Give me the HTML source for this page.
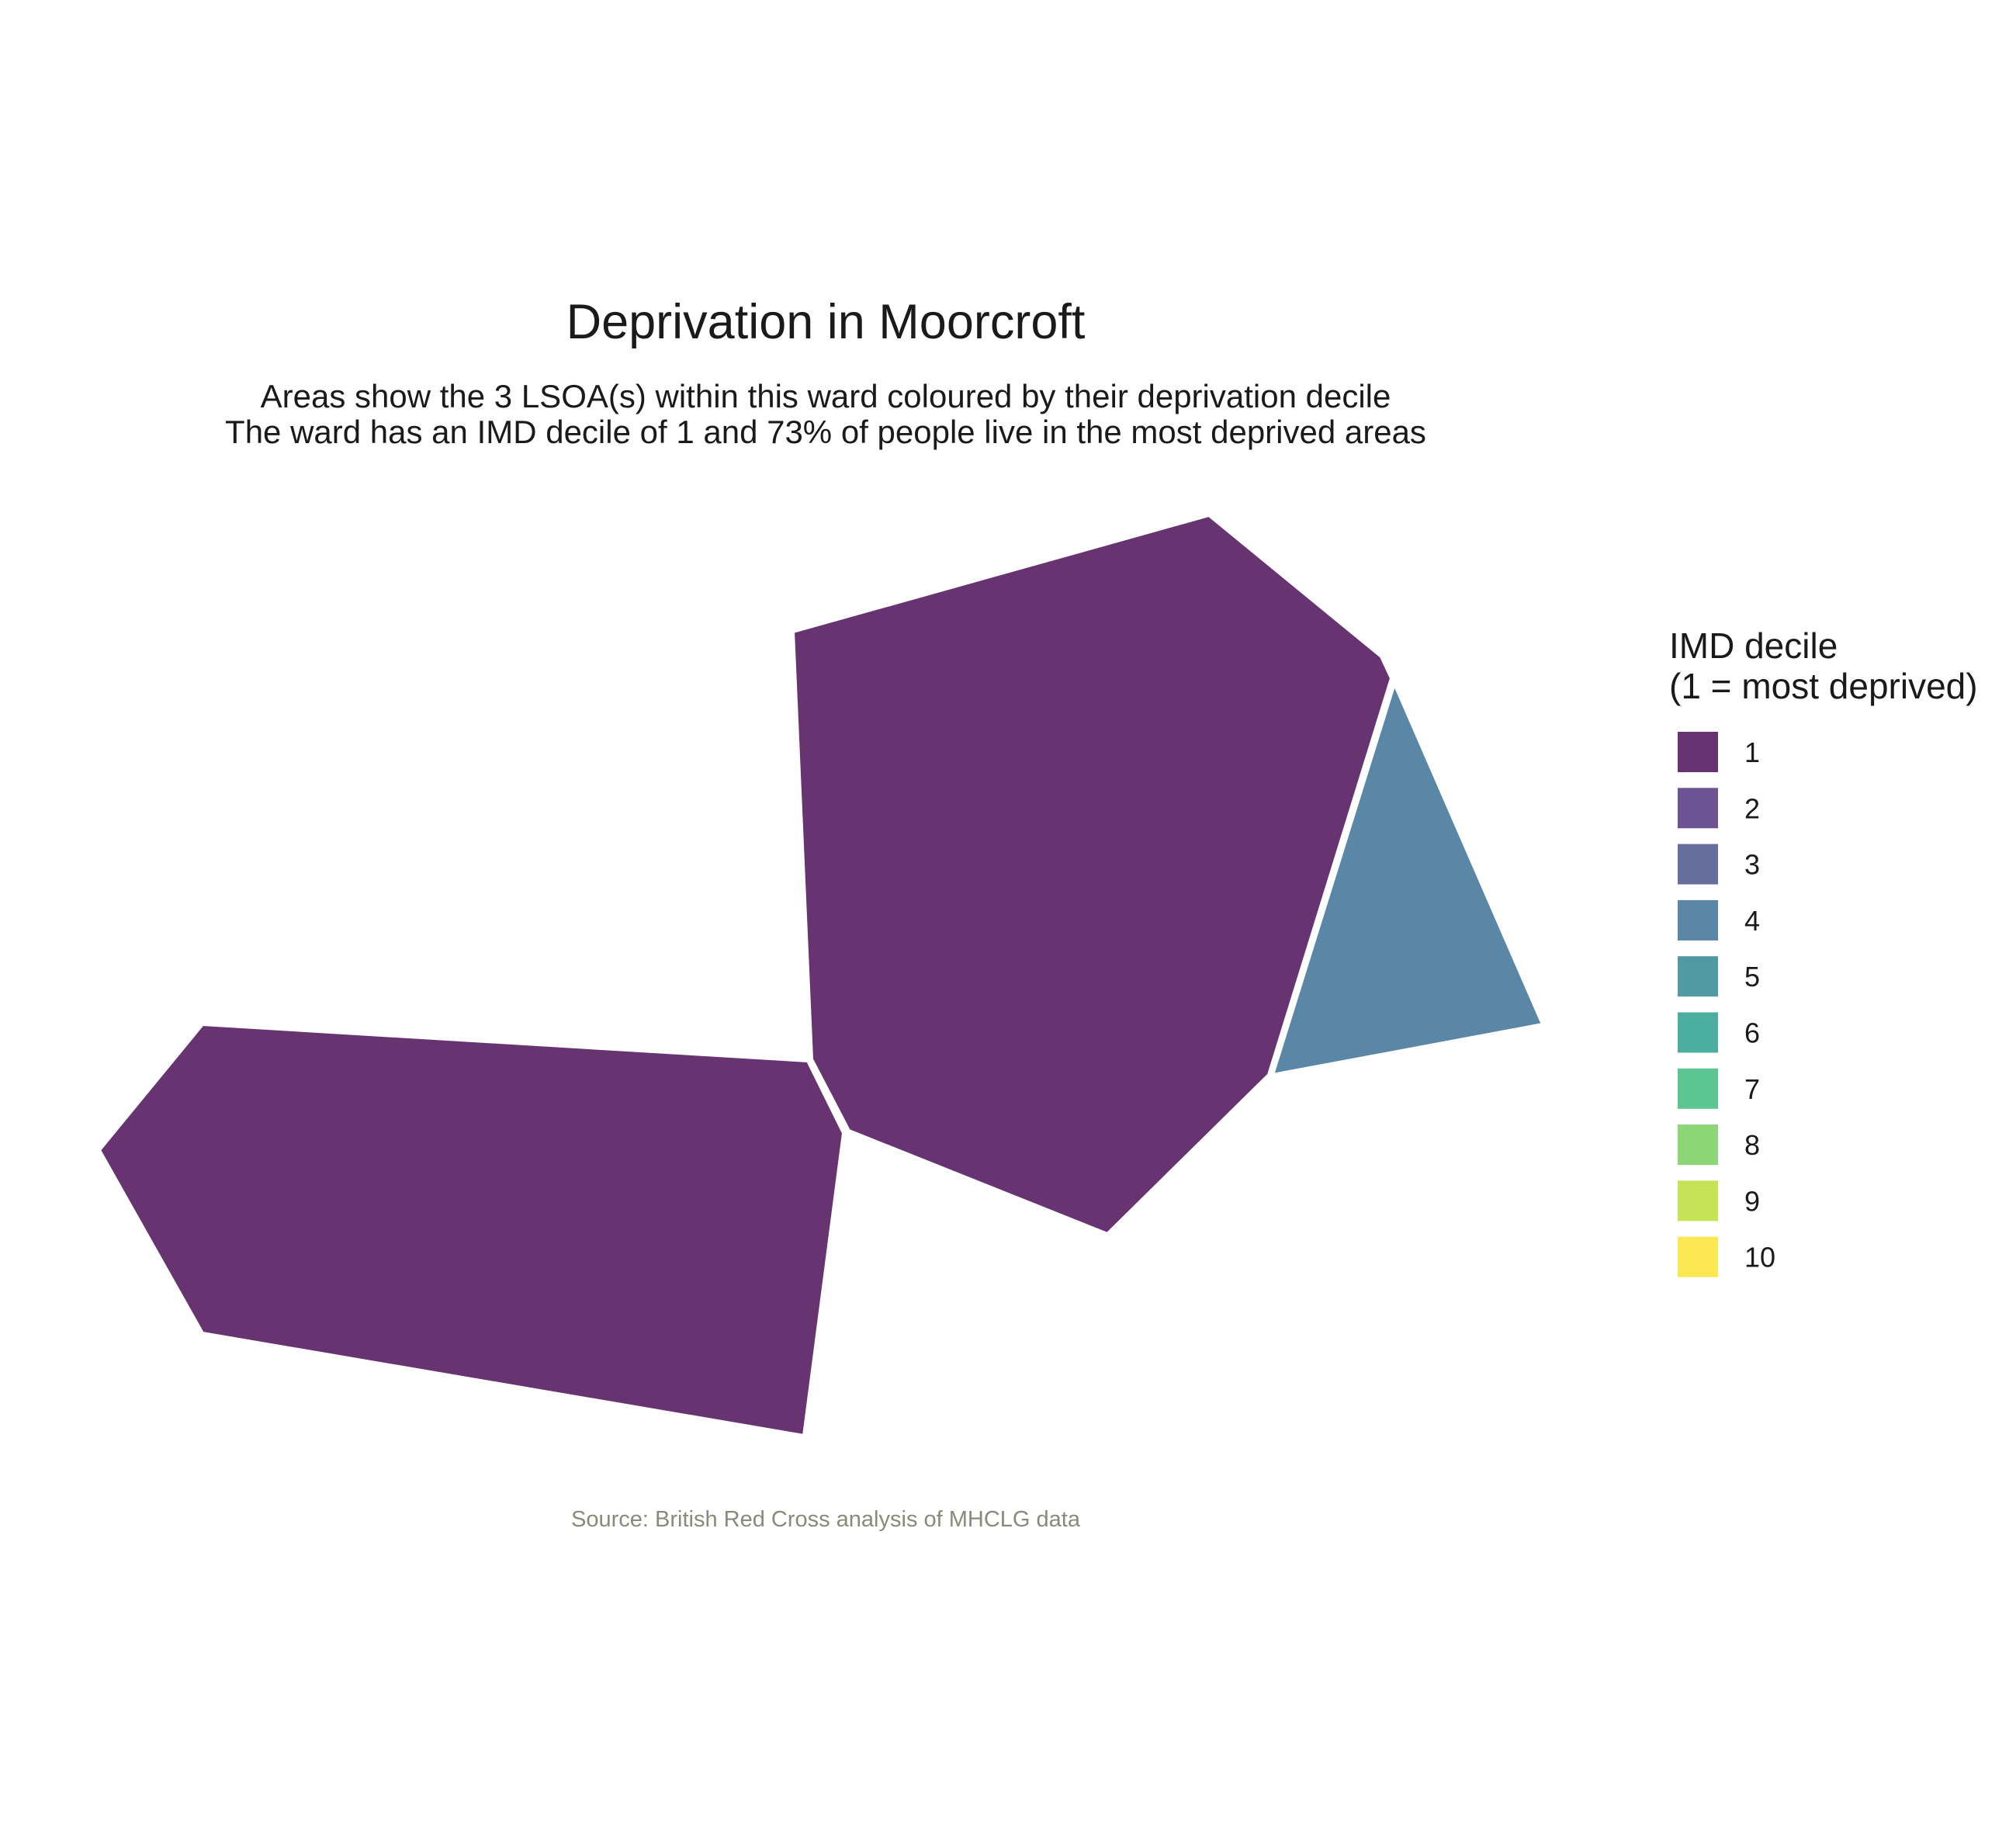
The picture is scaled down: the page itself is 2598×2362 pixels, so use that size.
<!DOCTYPE html>
<html><head><meta charset="utf-8"><style>
html,body{margin:0;padding:0;background:#fff}
svg{display:block}
text{font-family:"Liberation Sans",Arial,sans-serif;fill:#1a1a1a}
</style></head><body>
<svg id="chart" width="2598" height="2362" viewBox="0 0 2598 2362" xmlns="http://www.w3.org/2000/svg">
<rect width="2598" height="2362" fill="#fff"/>
<text x="1064" y="436" font-size="63" text-anchor="middle">Deprivation in Moorcroft</text>
<text x="1064" y="525" font-size="42" text-anchor="middle">Areas show the 3 LSOA(s) within this ward coloured by their deprivation decile</text>
<text x="1064" y="571" font-size="42" text-anchor="middle">The ward has an IMD decile of 1 and 73% of people live in the most deprived areas</text>
<g id="areas"></g>
<g id="legend">
<text x="2151" y="848" font-size="46">IMD decile</text>
<text x="2151" y="900" font-size="46">(1 = most deprived)</text>
</g>
<text x="1064" y="1977" font-size="29" text-anchor="middle" style="fill:#8a8a7a" transform="translate(0,-10)">Source: British Red Cross analysis of MHCLG data</text>
</svg>
<script>
const deciles = [1,2,3,4,5,6,7,8,9,10];
const decileColors = ["#673471","#6b5491","#666e9c","#5a87a6","#529aa2","#4cae9e","#5dc591","#8bd677","#c5e357","#fbe853"];
const areaNames = ["lsoa-north","lsoa-west","lsoa-east"];
const areaDeciles = [1,1,4];
// map coordinates (projected units)
const areaCoords = [
 [[1027,819],[1563,669],[1785,851],[1798,879],[1640,1390],[1432,1595],[1099,1462],[1051,1370]],
 [[266,1325],[1046,1372],[1092,1465],[1041,1855],[266,1723],[133,1487]],
 [[1802,886],[1993,1325],[1645,1390]]
];
const NS="http://www.w3.org/2000/svg";
const xScale = v => v - 5;
const yScale = v => v - 5;
const areas=document.getElementById('areas');
areaCoords.forEach((poly,i)=>{
  const p=document.createElementNS(NS,'polygon');
  p.setAttribute('points',poly.map(c=>xScale(c[0])+','+yScale(c[1])).join(' '));
  p.setAttribute('fill',decileColors[areaDeciles[i]-1]);
  p.setAttribute('stroke','#fff');
  p.setAttribute('stroke-width','4');
  p.setAttribute('stroke-linejoin','round');
  
  
  areas.appendChild(p);
});
const legend=document.getElementById('legend');
deciles.forEach((d,i)=>{
  const y=943+i*72.3;
  const r=document.createElementNS(NS,'rect');
  r.setAttribute('x',2162);r.setAttribute('y',y);r.setAttribute('width',52);r.setAttribute('height',52);
  r.setAttribute('fill',decileColors[i]);
  
  
  legend.appendChild(r);
  const t=document.createElementNS(NS,'text');
  t.setAttribute('x',2248);t.setAttribute('y',y+39);t.setAttribute('font-size','36');
  t.textContent=d;
  
  
  legend.appendChild(t);
});
</script>
</body></html>
